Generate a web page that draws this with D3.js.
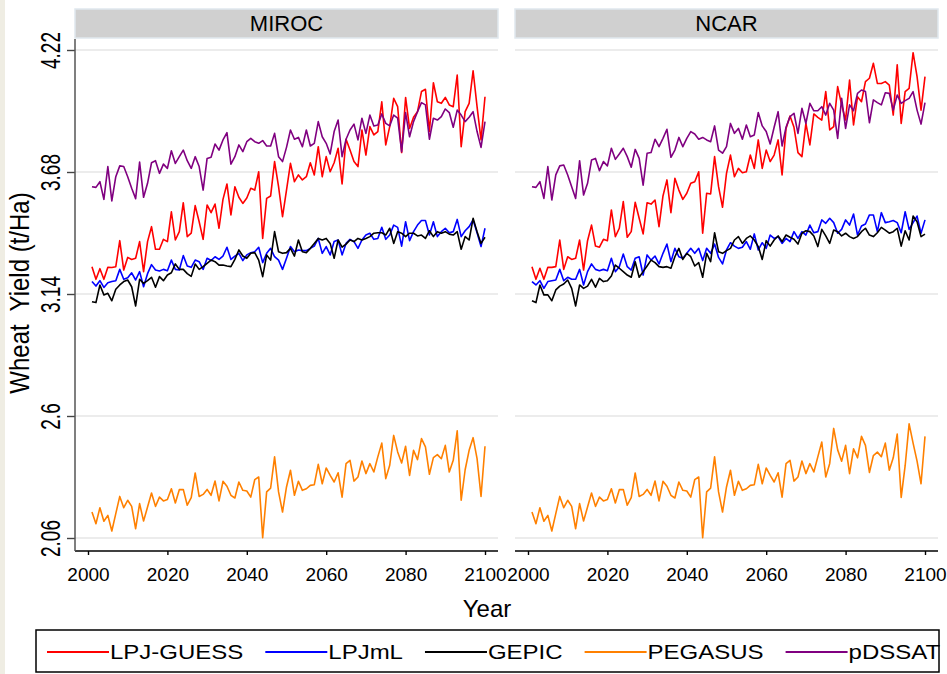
<!DOCTYPE html>
<html>
<head>
<meta charset="utf-8">
<script src="https://cdn.jsdelivr.net/npm/d3@7"></script>
<style>
  body { margin: 0; background: #ffffff; }
  svg { display: block; font-family: "Liberation Sans", Arial, sans-serif; }
</style>
</head>
<body>
<div id="vis"></div>
<script>
// Data ------------------------------------------------------------------------------------------------------------
const years = d3.range(2001, 2101);
const gcms = ["MIROC", "NCAR"];
const models = ["LPJ-GUESS", "LPJmL", "GEPIC", "PEGASUS", "pDSSAT"];
const modelColors = ["#ff0000", "#0000ff", "#000000", "#ff8000", "#800080"];
const yTicks = [2.06, 2.6, 3.14, 3.68, 4.22];
const xTicks = [2000, 2020, 2040, 2060, 2080, 2100];

const mirocLpjGuess = [
  3.261, 3.205, 3.252, 3.205, 3.258, 3.257, 3.261, 3.376, 3.246, 3.302,
  3.293, 3.298, 3.372, 3.239, 3.372, 3.438, 3.338, 3.338, 3.382, 3.372,
  3.504, 3.379, 3.416, 3.544, 3.394, 3.409, 3.531, 3.460, 3.382, 3.534,
  3.500, 3.538, 3.431, 3.559, 3.627, 3.490, 3.615, 3.568, 3.541, 3.565,
  3.608, 3.600, 3.681, 3.386, 3.563, 3.574, 3.726, 3.615, 3.482, 3.600,
  3.718, 3.637, 3.667, 3.645, 3.659, 3.721, 3.667, 3.792, 3.659, 3.748,
  3.681, 3.721, 3.785, 3.627, 3.825, 3.777, 3.726, 3.704, 3.866, 3.755,
  3.881, 3.844, 3.859, 3.991, 3.800, 3.881, 4.006, 3.969, 3.766, 4.010,
  3.873, 3.922, 3.947, 4.036, 4.046, 3.859, 4.075, 3.991, 3.984, 4.010,
  3.977, 3.969, 4.109, 3.792, 3.947, 3.984, 4.128, 3.969, 3.822, 4.013
];
const mirocLpjml = [
  3.195, 3.175, 3.199, 3.169, 3.190, 3.195, 3.199, 3.249, 3.205, 3.212,
  3.234, 3.202, 3.239, 3.172, 3.230, 3.270, 3.246, 3.242, 3.249, 3.243,
  3.290, 3.249, 3.246, 3.310, 3.264, 3.258, 3.290, 3.283, 3.249, 3.298,
  3.288, 3.305, 3.293, 3.308, 3.347, 3.293, 3.308, 3.320, 3.288, 3.313,
  3.323, 3.327, 3.347, 3.279, 3.320, 3.342, 3.305, 3.290, 3.249, 3.298,
  3.350, 3.327, 3.335, 3.332, 3.332, 3.342, 3.352, 3.386, 3.320, 3.350,
  3.313, 3.372, 3.379, 3.313, 3.364, 3.382, 3.372, 3.342, 3.379, 3.401,
  3.409, 3.382, 3.386, 3.435, 3.382, 3.401, 3.445, 3.435, 3.352, 3.460,
  3.376, 3.416, 3.445, 3.465, 3.465, 3.401, 3.460, 3.394, 3.416, 3.431,
  3.411, 3.416, 3.470, 3.394, 3.420, 3.438, 3.468, 3.411, 3.350, 3.431
];
const mirocGepic = [
  3.106, 3.102, 3.180, 3.136, 3.143, 3.110, 3.161, 3.180, 3.195, 3.202,
  3.172, 3.087, 3.205, 3.187, 3.199, 3.214, 3.170, 3.217, 3.199, 3.224,
  3.234, 3.273, 3.249, 3.249, 3.230, 3.218, 3.273, 3.249, 3.261, 3.276,
  3.290, 3.283, 3.268, 3.268, 3.264, 3.261, 3.293, 3.335, 3.308, 3.298,
  3.320, 3.323, 3.290, 3.217, 3.313, 3.290, 3.416, 3.327, 3.320, 3.323,
  3.342, 3.308, 3.379, 3.327, 3.323, 3.342, 3.364, 3.386, 3.379, 3.386,
  3.364, 3.298, 3.379, 3.347, 3.361, 3.379, 3.372, 3.386, 3.379, 3.386,
  3.394, 3.409, 3.411, 3.411, 3.401, 3.431, 3.364, 3.416, 3.409, 3.394,
  3.409, 3.409, 3.397, 3.401, 3.386, 3.420, 3.394, 3.416, 3.409, 3.416,
  3.405, 3.401, 3.416, 3.338, 3.394, 3.379, 3.475, 3.416, 3.364, 3.391
];
const mirocPegasus = [
  2.175, 2.123, 2.194, 2.134, 2.160, 2.091, 2.168, 2.244, 2.194, 2.227,
  2.200, 2.101, 2.212, 2.135, 2.197, 2.259, 2.200, 2.241, 2.224, 2.230,
  2.278, 2.215, 2.274, 2.275, 2.205, 2.239, 2.348, 2.244, 2.253, 2.275,
  2.249, 2.312, 2.224, 2.311, 2.289, 2.249, 2.237, 2.308, 2.271, 2.268,
  2.241, 2.318, 2.330, 2.061, 2.264, 2.281, 2.419, 2.264, 2.175, 2.286,
  2.360, 2.249, 2.311, 2.271, 2.278, 2.293, 2.296, 2.386, 2.300, 2.370,
  2.337, 2.308, 2.349, 2.241, 2.389, 2.404, 2.312, 2.330, 2.401, 2.345,
  2.389, 2.352, 2.419, 2.480, 2.323, 2.382, 2.514, 2.441, 2.392, 2.466,
  2.337, 2.448, 2.407, 2.500, 2.463, 2.342, 2.416, 2.429, 2.411, 2.470,
  2.352, 2.404, 2.534, 2.227, 2.362, 2.448, 2.504, 2.411, 2.244, 2.466
];
const mirocPdssat = [
  3.615, 3.612, 3.637, 3.559, 3.704, 3.552, 3.659, 3.707, 3.704, 3.659,
  3.608, 3.562, 3.724, 3.568, 3.630, 3.721, 3.730, 3.674, 3.715, 3.696,
  3.774, 3.718, 3.748, 3.777, 3.730, 3.696, 3.748, 3.704, 3.600, 3.740,
  3.745, 3.804, 3.777, 3.822, 3.854, 3.715, 3.748, 3.800, 3.770, 3.814,
  3.829, 3.814, 3.807, 3.819, 3.795, 3.795, 3.851, 3.748, 3.726, 3.789,
  3.866, 3.825, 3.833, 3.792, 3.866, 3.795, 3.807, 3.903, 3.836, 3.807,
  3.760, 3.859, 3.910, 3.748, 3.825, 3.866, 3.892, 3.822, 3.918, 3.851,
  3.932, 3.884, 3.888, 3.937, 3.895, 3.884, 3.932, 3.918, 3.770, 3.943,
  3.836, 3.903, 3.947, 3.987, 3.977, 3.825, 3.918, 3.910, 3.925, 3.959,
  3.943, 3.878, 3.954, 3.932, 3.903, 3.922, 3.947, 3.859, 3.789, 3.903
];

const ncarLpjGuess = [
  3.261, 3.205, 3.254, 3.205, 3.258, 3.258, 3.261, 3.379, 3.249, 3.305,
  3.293, 3.298, 3.379, 3.246, 3.376, 3.445, 3.352, 3.347, 3.382, 3.376,
  3.512, 3.394, 3.431, 3.549, 3.391, 3.416, 3.546, 3.475, 3.406, 3.544,
  3.538, 3.556, 3.438, 3.574, 3.645, 3.500, 3.652, 3.600, 3.559, 3.586,
  3.630, 3.637, 3.681, 3.409, 3.586, 3.583, 3.748, 3.615, 3.524, 3.674,
  3.755, 3.659, 3.696, 3.677, 3.681, 3.755, 3.696, 3.822, 3.696, 3.777,
  3.726, 3.755, 3.822, 3.667, 3.873, 3.928, 3.878, 3.766, 3.748, 3.895,
  3.800, 3.937, 3.922, 3.910, 4.036, 3.866, 3.881, 4.058, 3.977, 3.910,
  4.087, 3.888, 4.013, 3.991, 4.080, 4.095, 4.161, 4.072, 4.072, 4.080,
  4.065, 3.932, 4.154, 3.895, 4.036, 4.050, 4.208, 4.102, 3.954, 4.102
];
const ncarLpjml = [
  3.195, 3.180, 3.199, 3.165, 3.195, 3.199, 3.202, 3.249, 3.199, 3.214,
  3.205, 3.205, 3.249, 3.180, 3.239, 3.273, 3.249, 3.243, 3.249, 3.243,
  3.298, 3.239, 3.261, 3.317, 3.261, 3.246, 3.298, 3.305, 3.224, 3.313,
  3.290, 3.308, 3.273, 3.320, 3.361, 3.283, 3.342, 3.305, 3.298, 3.320,
  3.342, 3.320, 3.342, 3.288, 3.342, 3.320, 3.361, 3.302, 3.273, 3.335,
  3.367, 3.352, 3.342, 3.347, 3.372, 3.338, 3.406, 3.335, 3.367, 3.342,
  3.401, 3.386, 3.394, 3.364, 3.386, 3.372, 3.416, 3.386, 3.416, 3.401,
  3.445, 3.411, 3.416, 3.468, 3.453, 3.475, 3.456, 3.409, 3.426, 3.468,
  3.445, 3.494, 3.401, 3.441, 3.450, 3.490, 3.490, 3.416, 3.500, 3.456,
  3.460, 3.465, 3.456, 3.411, 3.504, 3.426, 3.456, 3.485, 3.409, 3.468
];
const ncarGepic = [
  3.110, 3.102, 3.180, 3.136, 3.136, 3.110, 3.158, 3.175, 3.184, 3.202,
  3.165, 3.087, 3.180, 3.165, 3.175, 3.205, 3.170, 3.209, 3.195, 3.199,
  3.220, 3.268, 3.254, 3.239, 3.224, 3.214, 3.283, 3.214, 3.239, 3.264,
  3.290, 3.279, 3.261, 3.258, 3.261, 3.254, 3.305, 3.342, 3.293, 3.320,
  3.305, 3.264, 3.279, 3.214, 3.320, 3.283, 3.411, 3.327, 3.320, 3.332,
  3.342, 3.379, 3.394, 3.364, 3.386, 3.397, 3.379, 3.350, 3.293, 3.376,
  3.352, 3.379, 3.397, 3.372, 3.401, 3.391, 3.382, 3.361, 3.409, 3.420,
  3.416, 3.397, 3.350, 3.426, 3.397, 3.364, 3.423, 3.416, 3.397, 3.409,
  3.394, 3.386, 3.394, 3.416, 3.431, 3.401, 3.394, 3.411, 3.435, 3.423,
  3.409, 3.416, 3.431, 3.352, 3.420, 3.379, 3.485, 3.460, 3.394, 3.405
];
const ncarPegasus = [
  2.175, 2.123, 2.194, 2.134, 2.160, 2.091, 2.168, 2.244, 2.194, 2.227,
  2.200, 2.101, 2.212, 2.135, 2.197, 2.259, 2.200, 2.241, 2.224, 2.230,
  2.278, 2.215, 2.274, 2.275, 2.205, 2.239, 2.348, 2.244, 2.253, 2.275,
  2.249, 2.312, 2.224, 2.311, 2.289, 2.249, 2.237, 2.308, 2.271, 2.268,
  2.241, 2.318, 2.330, 2.061, 2.264, 2.281, 2.419, 2.264, 2.175, 2.286,
  2.360, 2.249, 2.311, 2.271, 2.278, 2.293, 2.296, 2.386, 2.300, 2.370,
  2.337, 2.308, 2.349, 2.241, 2.389, 2.404, 2.312, 2.330, 2.401, 2.345,
  2.389, 2.352, 2.419, 2.485, 2.330, 2.390, 2.545, 2.450, 2.400, 2.470,
  2.345, 2.455, 2.415, 2.510, 2.470, 2.350, 2.425, 2.440, 2.420, 2.480,
  2.360, 2.415, 2.520, 2.240, 2.380, 2.565, 2.480, 2.400, 2.300, 2.510
];
const ncarPdssat = [
  3.615, 3.612, 3.637, 3.563, 3.704, 3.556, 3.667, 3.707, 3.711, 3.667,
  3.615, 3.563, 3.730, 3.578, 3.630, 3.733, 3.740, 3.686, 3.726, 3.707,
  3.785, 3.736, 3.760, 3.785, 3.748, 3.701, 3.780, 3.740, 3.622, 3.763,
  3.766, 3.825, 3.792, 3.829, 3.869, 3.745, 3.777, 3.833, 3.792, 3.829,
  3.859, 3.848, 3.825, 3.833, 3.822, 3.814, 3.884, 3.777, 3.763, 3.792,
  3.895, 3.851, 3.873, 3.825, 3.888, 3.836, 3.844, 3.943, 3.884, 3.859,
  3.804, 3.878, 3.947, 3.795, 3.878, 3.925, 3.940, 3.851, 3.962, 3.895,
  3.984, 3.951, 3.951, 3.969, 3.932, 3.984, 3.954, 3.829, 4.006, 3.873,
  3.977, 3.951, 4.028, 4.043, 4.036, 3.898, 3.999, 3.987, 3.977, 4.031,
  4.028, 3.954, 4.021, 3.984, 3.996, 4.006, 4.036, 3.954, 3.892, 3.987
];

const panelSeries = [
  [mirocLpjGuess, mirocLpjml, mirocGepic, mirocPegasus, mirocPdssat],
  [ncarLpjGuess, ncarLpjml, ncarGepic, ncarPegasus, ncarPdssat]
];

// Initialize the canvas -------------------------------------------------------------------------------------------
const canvasWidth = 947;
const canvasHeight = 674;

const panelLeft = [75, 515];
const panelWidth = 423;
const plotPadding = 13;
const stripTop = 9;
const stripHeight = 29;
const axisTop = 39;
const axisY = 551;

const svg = d3.select("#vis")
  .append("svg")
  .attr("width", canvasWidth)
  .attr("height", canvasHeight);

// thin beige edge on the left of the exported image
svg.append("rect")
  .attr("x", 0)
  .attr("y", 0)
  .attr("width", 5)
  .attr("height", canvasHeight)
  .attr("fill", "#efede3");

const yScale = d3.scaleLinear()
  .domain([2.06, 4.22])
  .range([538, 50]);

const line = d3.line();

// Render the panels -----------------------------------------------------------------------------------------------
gcms.forEach(function(gcm, i) {
  const left = panelLeft[i];
  const right = left + panelWidth;
  const xScale = d3.scaleLinear()
    .domain([2000, 2100])
    .range([left + plotPadding, right - plotPadding]);

  const panel = svg.append("g");

  // title strip
  panel.append("rect")
    .attr("x", left)
    .attr("y", stripTop)
    .attr("width", panelWidth)
    .attr("height", stripHeight)
    .attr("fill", "#d0d0d0")
    .attr("stroke", "#e0e8ee")
    .attr("stroke-width", 1.5);

  panel.append("text")
    .text(gcm)
    .attr("x", (left + right) / 2)
    .attr("y", 31)
    .attr("text-anchor", "middle")
    .style("font-size", "22px")
    .attr("fill", "#000");

  // gridlines
  panel.selectAll("line.grid")
    .data(yTicks)
    .join("line")
    .attr("class", "grid")
    .attr("x1", left)
    .attr("x2", right)
    .attr("y1", d => yScale(d))
    .attr("y2", d => yScale(d))
    .attr("stroke", "#e6e6e6")
    .attr("stroke-width", 1.6);

  // x axis
  const xAxis = panel.append("g")
    .attr("transform", "translate(0," + axisY + ")")
    .call(d3.axisBottom(xScale).tickValues(xTicks).tickFormat(d3.format("d")).tickSize(4).tickPadding(13));
  xAxis.select(".domain").remove();
  xAxis.selectAll("line")
    .attr("stroke", "#000")
    .attr("stroke-width", 1.4);
  xAxis.selectAll("text")
    .attr("fill", "#000")
    .style("font-size", "19px")
    .style("font-family", "Liberation Sans, Arial, sans-serif");

  panel.append("line")
    .attr("x1", left)
    .attr("x2", right)
    .attr("y1", axisY)
    .attr("y2", axisY)
    .attr("stroke", "#000")
    .attr("stroke-width", 1.5);

  // y axis only on the first panel
  if (i === 0) {
    const yAxis = panel.append("g")
      .attr("transform", "translate(" + left + ",0)")
      .call(d3.axisLeft(yScale).tickValues(yTicks).tickFormat(d => String(d)).tickSize(8));
    yAxis.select(".domain").remove();
    yAxis.selectAll("line")
      .attr("stroke", "#444")
      .attr("stroke-width", 1.4);
    yAxis.selectAll("text")
      .attr("x", 0)
      .attr("dy", "0.35em")
      .attr("text-anchor", "middle")
      .attr("transform", "translate(-25,0) scale(1.45,1) rotate(-90)")
      .attr("fill", "#000")
      .style("font-size", "19px")
      .style("font-family", "Liberation Sans, Arial, sans-serif");

    panel.append("line")
      .attr("x1", left)
      .attr("x2", left)
      .attr("y1", axisTop)
      .attr("y2", axisY)
      .attr("stroke", "#555")
      .attr("stroke-width", 1.5);
  }

  // series
  line.x((d, j) => xScale(years[j])).y(d => yScale(d));
  panel.selectAll("path.series")
    .data(panelSeries[i])
    .join("path")
    .attr("class", "series")
    .attr("d", d => line(d))
    .attr("fill", "none")
    .attr("stroke", (d, k) => modelColors[k])
    .attr("stroke-width", 1.6)
    .attr("stroke-linejoin", "round");
});

// Axis titles -----------------------------------------------------------------------------------------------------
svg.append("text")
  .text("Year")
  .attr("x", 487)
  .attr("y", 617)
  .attr("text-anchor", "middle")
  .style("font-size", "24px");

svg.append("text")
  .text("Wheat  Yield (t/Ha)")
  .attr("text-anchor", "middle")
  .attr("dy", "0.35em")
  .attr("transform", "translate(19,293) scale(1.15,1) rotate(-90)")
  .style("white-space", "pre")
  .style("font-size", "24px");

// Render the legend -----------------------------------------------------------------------------------------------
const legendTop = 630;
const legendHeight = 42;
const legendLine = 62;
const legendGap = 22;
const legendStretch = 1.2;

svg.append("rect")
  .attr("x", 36)
  .attr("y", legendTop)
  .attr("width", 903)
  .attr("height", legendHeight)
  .attr("fill", "none")
  .attr("stroke", "#000")
  .attr("stroke-width", 1.5);

let legendX = 47;
models.forEach(function(name, k) {
  svg.append("line")
    .attr("x1", legendX)
    .attr("x2", legendX + legendLine)
    .attr("y1", 652)
    .attr("y2", 652)
    .attr("stroke", modelColors[k])
    .attr("stroke-width", 2);
  const label = svg.append("text")
    .text(name)
    .attr("transform", "translate(" + (legendX + legendLine + 1) + ",659) scale(" + legendStretch + ",1)")
    .style("font-size", "20px");
  legendX += legendLine + 1 + label.node().getComputedTextLength() * legendStretch + legendGap;
});
</script>
</body>
</html>
